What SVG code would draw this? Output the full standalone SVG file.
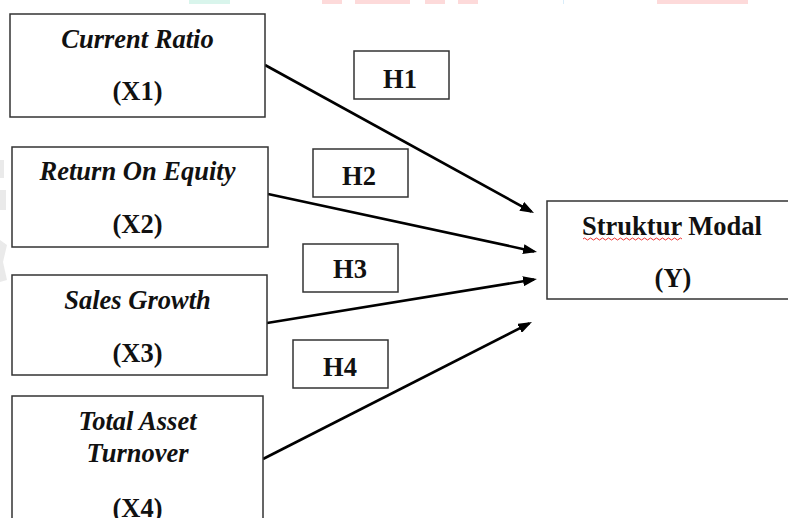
<svg xmlns="http://www.w3.org/2000/svg" width="788" height="518" viewBox="0 0 788 518">
<style>
.box{fill:#fff;stroke:#333;stroke-width:1.5}
.t{font-family:"Liberation Serif","Times New Roman",serif;font-size:26.5px;font-weight:bold;fill:#111;text-anchor:middle}
.i{font-style:italic}
.c{stroke:#000;stroke-width:2.6;fill:none;marker-end:url(#ah)}
.wm{stroke:none}
</style>
<defs>
<marker id="ah" viewBox="0 0 14 10" refX="11" refY="5" markerWidth="14" markerHeight="10" markerUnits="userSpaceOnUse" orient="auto">
<path d="M0,0 L14,5 L0,10 z" fill="#000"/>
</marker>
</defs>
<rect width="788" height="518" fill="#fff"/>
<g id="watermark" opacity="0.9">
<rect class="wm" x="189" y="0" width="41" height="4" fill="#d5f5ea"/>
<rect class="wm" x="322" y="0" width="20" height="4" fill="#fdd6d6"/>
<rect class="wm" x="355" y="0" width="55" height="4" fill="#fdd6d6"/>
<rect class="wm" x="425" y="0" width="20" height="4" fill="#fdd6d6"/>
<rect class="wm" x="458" y="0" width="20" height="4" fill="#fdd6d6"/>
<rect class="wm" x="657" y="0" width="91" height="4" fill="#fdd6d6"/>
<rect class="wm" x="563" y="0" width="1" height="4" fill="#d5ecfa"/>
<rect class="wm" x="0" y="160" width="4" height="18" fill="#e8e8e8"/>
<rect class="wm" x="0" y="190" width="6" height="20" fill="#e8e8e8"/>
<path class="wm" d="M0,240 L7,245 L3,262 L7,280 L0,282 z" fill="#e8e8e8"/>
</g>
<g id="connectors">
<line class="c" x1="265" y1="65" x2="531.4" y2="211.6"/>
<line class="c" x1="268" y1="194" x2="534.1" y2="251.4"/>
<line class="c" x1="267" y1="323" x2="534" y2="279.5"/>
<line class="c" x1="263" y1="459" x2="529.3" y2="323.4"/>
</g>
<g id="x1">
<rect class="box" x="10" y="14" width="255" height="103"/>
<text class="t i" x="137.5" y="48">Current Ratio</text>
<text class="t" x="137.5" y="100">(X1)</text>
</g>
<g id="x2">
<rect class="box" x="12" y="147" width="256" height="100"/>
<text class="t i" x="137.5" y="180">Return On Equity</text>
<text class="t" x="137.5" y="233">(X2)</text>
</g>
<g id="x3">
<rect class="box" x="12" y="275" width="255" height="100"/>
<text class="t i" x="137.5" y="309">Sales Growth</text>
<text class="t" x="137.5" y="362">(X3)</text>
</g>
<g id="x4">
<rect class="box" x="12" y="396" width="251" height="140"/>
<text class="t i" x="137.5" y="430">Total Asset</text>
<text class="t i" x="137.5" y="462">Turnover</text>
<text class="t" x="137.5" y="517">(X4)</text>
</g>
<g id="y">
<rect class="box" x="547" y="201" width="245" height="98"/>
<text class="t" x="672" y="235">Struktur Modal</text>
<path d="M583,239 q1.5,-2 3,0 t3,0 t3,0 t3,0 t3,0 t3,0 t3,0 t3,0 t3,0 t3,0 t3,0 t3,0 t3,0 t3,0 t3,0 t3,0 t3,0 t3,0 t3,0 t3,0 t3,0 t3,0 t3,0 t3,0 t3,0 t3,0 t3,0 t3,0 t3,0 t3,0 t3,0 t3,0 t3,0" fill="none" stroke="#e33" stroke-width="1"/>
<text class="t" x="673" y="287">(Y)</text>
</g>
<g id="h1">
<rect class="box" x="354" y="51" width="95" height="48"/>
<text class="t" x="400" y="88">H1</text>
</g>
<g id="h2">
<rect class="box" x="313" y="149" width="95" height="48"/>
<text class="t" x="359" y="185">H2</text>
</g>
<g id="h3">
<rect class="box" x="303" y="244" width="95" height="48"/>
<text class="t" x="350" y="278">H3</text>
</g>
<g id="h4">
<rect class="box" x="293" y="340" width="95" height="48"/>
<text class="t" x="340" y="376">H4</text>
</g>
</svg>
